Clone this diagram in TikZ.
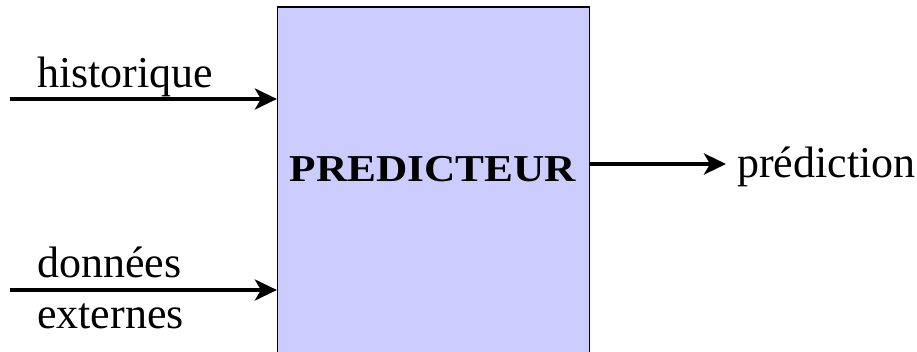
\documentclass[tikz,border=0pt]{standalone}
\usepackage{fontspec}
\setmainfont{Liberation Serif}
\usetikzlibrary{arrows.meta}
\definecolor{boxfill}{RGB}{204,204,255}
\begin{document}
\begin{tikzpicture}[x=1pt,y=-1pt,
  lbl/.style={inner sep=0pt,anchor=base west,font=\fontsize{44}{50}\selectfont},
  flow/.style={line width=4.2pt,-{Stealth[length=22pt,width=21pt,inset=6pt]}},
  blk/.style={draw=black,line width=1.2pt,fill=boxfill,inner sep=0pt,minimum width=312pt,minimum height=353pt}]
\useasboundingbox (0,0) rectangle (917,352);
\node[blk] (box) at (433.5,183.5) {};
\node[inner sep=0pt,anchor=base,font=\bfseries\fontsize{38}{44}\selectfont,xscale=1.14] (title) at (433,182) {PREDICTEUR};
\coordinate (in1) at (10,99);
\coordinate (in2) at (10,290);
\coordinate (outend) at (726,164);
\draw[flow] (in1) -- (in1 -| box.west);
\draw[flow] (in2) -- (in2 -| box.west);
\draw[flow] (outend -| box.east) -- (outend);
\node[lbl] (hist) at (37,88) {historique};
\node[lbl] (don) at (37,277) {données};
\node[lbl] (ext) at (37,328) {externes};
\node[lbl] (pred) at (737,178) {prédiction};
\end{tikzpicture}
\end{document}
